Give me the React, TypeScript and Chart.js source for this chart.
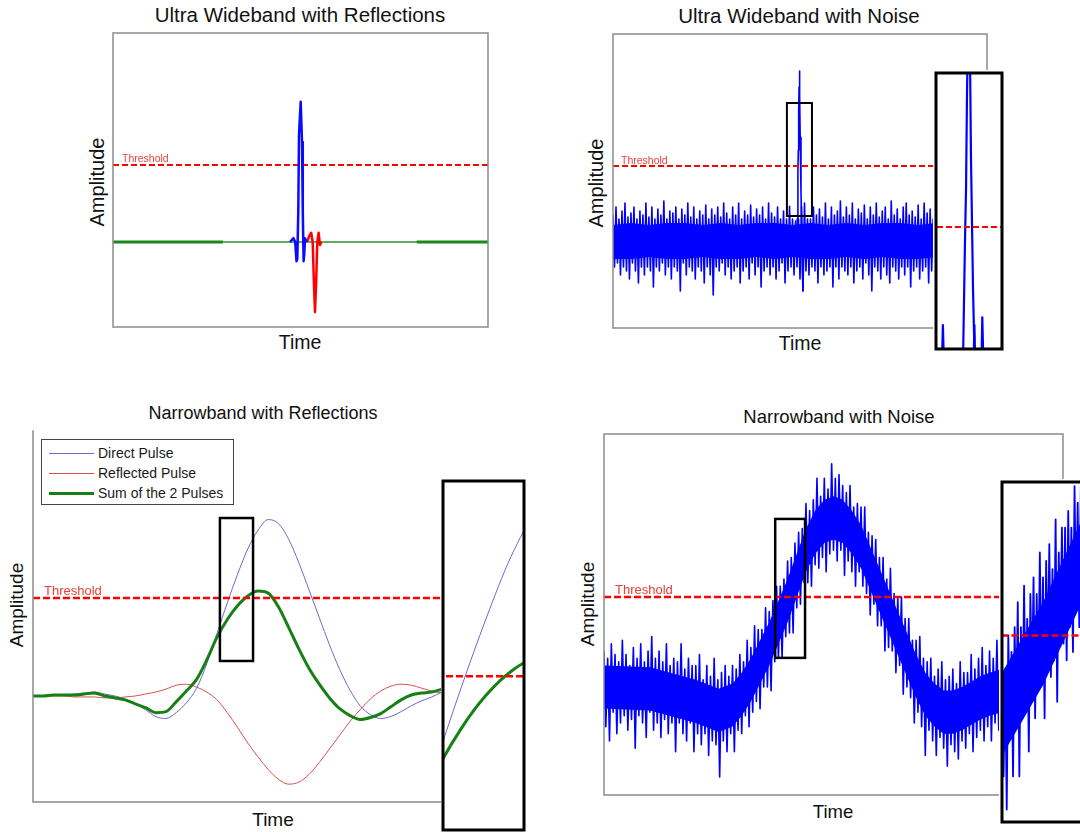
import React, { useEffect, useRef } from "react";
import { Chart, registerables } from "chart.js";

Chart.register(...registerables);

// ---------------- Panel 1: Ultra Wideband with Reflections ----------------
const uwbReflThreshold = 1.0;
const uwbBaselineSpan = [0, 100];
const uwbBaselineThickLeft = [0, 29.3];
const uwbBaselineThickRight = [81, 100];
const uwbDirectX = [47.2, 48.13, 48.59, 48.93, 49.15, 49.41, 49.6, 50.05, 50.4, 50.61, 50.83, 51.01, 51.2, 51.6];
const uwbDirectY = [0, 0.05, 0.0, -0.25, -0.22, 0.4, 1.4, 1.82, 1.3, 0.4, -0.25, -0.15, 0.05, 0];
const uwbReflectedX = [51.73, 52.35, 52.85, 53.25, 53.55, 53.87, 54.19, 54.48, 54.83, 55.2, 55.6];
const uwbReflectedY = [0, 0.08, 0.12, 0.0, -0.5, -0.91, -0.5, 0.0, 0.12, -0.04, 0];

// ---------------- Panel 2: Ultra Wideband with Noise ----------------
const uwbNoiseThreshold = 1.925;
const uwbNoiseStep = 0.4;
const uwbNoiseEnd = 86.4;
const uwbNoise = [
  0.7, -0.6, 0.9, -0.5, 0.6, -0.8, 0.8, -0.6, 1.0, -0.7, 0.65, -0.9, 0.75, -0.5, 0.9, -0.7, 0.6, -1.0, 0.8, -0.6,
  0.7, -0.8, 1.0, -0.6, 0.65, -0.7, 0.9, -1.1, 0.6, -0.6, 0.85, -0.7, 0.7, -0.5, 1.05, -0.8, 0.6, -0.6, 0.8, -0.9,
  0.75, -0.6, 0.9, -0.7, 0.6, -1.2, 0.85, -0.5, 0.7, -0.8, 1.0, -0.6, 0.65, -0.7, 0.9, -0.9, 0.6, -0.6, 0.8, -0.7,
  0.7, -1.0, 0.95, -0.6, 0.6, -0.8, 0.85, -1.3, 0.7, -0.6, 0.9, -0.7, 0.65, -0.5, 1.0, -0.8, 0.75, -0.6, 0.6, -0.9,
  0.9, -0.7, 0.7, -0.6, 1.0, -1.0, 0.6, -0.7, 0.8, -0.6, 0.7, -0.9, 0.95, -0.5, 0.65, -0.8, 0.85, -0.6, 0.7, -1.1,
  0.9, -0.7, 0.6, -0.6, 1.0, -0.8, 0.75, -0.6, 0.65, -0.9, 0.9, -0.7, 0.6, -0.5, 0.8, -1.0,
  0.6, -0.7, 0.92, -0.6, 0.6, -0.8, 0.55, -0.6, 0.6, -0.9, 0.92, -1.2, 1.0, -0.7, 0.6, -0.8, 0.6, -0.6,
  0.9, -0.7, 0.7, -1.0, 0.85, -0.6, 0.65, -0.8, 1.0, -0.7, 0.6, -0.6, 0.9, -1.1, 0.7, -0.6, 0.8, -0.9, 1.05, -0.6,
  0.65, -0.7, 0.9, -0.8, 0.7, -0.6, 1.0, -1.0, 0.6, -0.7, 0.85, -0.6, 0.75, -0.9, 0.95, -0.5, 0.6, -0.8, 0.9, -1.2,
  0.7, -0.6, 1.0, -0.7, 0.65, -0.9, 0.8, -0.6, 0.9, -0.8, 0.6, -1.0, 1.05, -0.6, 0.7, -0.7, 0.85, -0.9, 0.6, -0.6,
  0.9, -0.8, 1.0, -0.6, 0.7, -1.1, 0.8, -0.7, 0.65, -0.6, 0.95, -0.9, 0.6, -0.7, 1.0, -0.6, 0.75, -1.0, 0.85, -0.7,
  0.6, -0.8, 0.7,
];
// dense core of the noise band (sampled every 4.8 time units)
const uwbCoreStep = 4.8;
const uwbCoreUpper = [0.45, 0.5, 0.45, 0.5, 0.5, 0.45, 0.5, 0.45, 0.5, 0.5, 0.45, 0.5, 0.45, 0.5, 0.45, 0.5, 0.5, 0.45, 0.5];
const uwbCoreLower = [-0.4, -0.4, -0.35, -0.4, -0.4, -0.35, -0.4, -0.4, -0.35, -0.4, -0.35, -0.4, -0.4, -0.35, -0.4, -0.35, -0.4, -0.4, -0.35];
const uwbPulseX = [49.1, 49.25, 49.44, 49.55, 49.65, 49.75, 49.85, 49.95, 50.05, 50.26, 50.46, 50.62, 50.78, 50.95];
const uwbPulseY = [-0.3, 0.6, 1.76, 2.32, 3.31, 3.9, 4.3, 3.7, 2.64, 1.28, 0.4, -0.6, -1.2, -0.2];
const uwbZoomX = [46.5, 53.2];
const uwbZoomY = [0.675, 3.5];

// ---------------- Panel 3: Narrowband with Reflections ----------------
const nbThreshold = 1.0;
const nbTimeStep = 2.5;
const nbDirect = [
  0, 0, 0.01, 0.01, 0.02, 0.03, 0.04, 0.02, 0, -0.03, -0.08, -0.14, -0.21, -0.23, -0.17, -0.07, 0.08, 0.33, 0.64, 0.95,
  1.24, 1.5, 1.69, 1.8, 1.76, 1.6, 1.36, 1.08, 0.8, 0.52, 0.27, 0.06, -0.1, -0.19, -0.23, -0.21, -0.16, -0.1, -0.05, -0.01,
  0.04,
];
const nbReflected = [
  0, 0, 0, 0, -0.01, -0.01, -0.01, -0.02, -0.02, -0.01, 0, 0.02, 0.04, 0.07, 0.11, 0.12, 0.09, 0.04, -0.04, -0.17,
  -0.32, -0.48, -0.62, -0.75, -0.85, -0.9, -0.88, -0.8, -0.68, -0.54, -0.4, -0.26, -0.14, -0.03, 0.05, 0.1, 0.12, 0.11, 0.08, 0.05,
  0.03,
];
const nbSum = [
  0, 0, 0.01, 0.01, 0.01, 0.02, 0.03, 0, -0.02, -0.04, -0.08, -0.12, -0.17, -0.16, -0.06, 0.05, 0.17, 0.37, 0.6, 0.78,
  0.92, 1.02, 1.07, 1.05, 0.91, 0.7, 0.48, 0.28, 0.12, -0.02, -0.13, -0.2, -0.24, -0.22, -0.18, -0.11, -0.04, 0.01, 0.03, 0.04,
  0.07,
];
const nbLegend = ["Direct Pulse", "Reflected Pulse", "Sum of the 2 Pulses"];
const nbZoomX = [45.7, 53.8];
const nbZoomY = [0.357, 1.816];

// ---------------- Panel 4: Narrowband with Noise ----------------
const nbNoiseThreshold = 5.5;
const nbNoiseStep = 0.4;
const nbNoiseEnd = 86.7;
const nbNoise = [
  4.0, 1.9, 3.8, 1.5, 4.2, 2.3, 3.9, 1.7, 3.7, 2.0, 4.3, 2.2, 3.9, 1.8, 3.6, 2.1, 4.1, 1.3, 3.8, 2.2,
  4.2, 2.0, 3.7, 1.6, 4.0, 2.3, 4.4, 1.8, 3.8, 2.0, 4.0, 1.6, 3.7, 2.1, 4.2, 1.7, 3.6, 2.0, 3.8, 1.2,
  3.7, 2.0, 4.2, 1.7, 3.5, 1.5, 3.8, 2.0, 3.6, 1.2, 3.6, 1.7, 3.9, 1.4, 3.2, 1.7, 3.6, 1.1, 3.3, 1.5,
  3.8, 1.4, 3.2, 0.5, 3.4, 1.5, 3.6, 1.2, 3.3, 1.7, 3.6, 1.2, 3.5, 1.8, 3.9, 1.7, 3.7, 2.2, 4.3, 1.9,
  4.1, 2.3, 4.7, 2.6, 4.6, 2.4, 4.6, 3.0, 5.2, 3.0, 5.1, 2.9, 5.4, 3.7, 5.8, 3.8, 5.8, 3.8, 6.0, 4.4,
  6.5, 4.5, 6.6, 4.5, 7.0, 5.2, 7.3, 5.3, 7.4, 5.9, 8.1, 5.9, 7.9, 5.8, 8.2, 6.4, 8.8, 6.3, 8.3, 6.6,
  8.8, 6.2, 8.5, 6.7, 9.2, 6.8, 8.8, 6.5, 8.9, 6.8, 8.6, 6.1, 8.4, 6.5, 8.6, 6.2, 8.0, 5.8, 8.1, 6.2,
  8.0, 5.8, 8.0, 5.6, 7.3, 5.0, 7.2, 5.3, 7.1, 4.7, 6.6, 4.7, 6.6, 4.0, 6.0, 4.1, 6.3, 4.0, 5.6, 3.4,
  5.5, 3.6, 5.5, 2.8, 4.9, 3.0, 4.9, 2.7, 4.3, 2.0, 4.3, 2.3, 4.4, 1.9, 3.8, 1.1, 3.7, 1.8, 3.8, 1.5,
  3.3, 1.1, 3.5, 1.6, 3.7, 1.3, 3.2, 0.8, 3.3, 1.4, 3.5, 1.2, 3.1, 1.0, 3.7, 1.5, 3.4, 1.3, 3.4, 1.7,
  3.9, 1.2, 3.5, 1.6, 3.8, 1.8, 4.1, 1.5, 3.6, 1.9, 4.0, 1.5, 3.8, 2.0, 4.3, 1.8, 3.8, 2.1,
];
// dense core of the noisy narrowband signal
const nbCoreX = [0, 10, 20, 25, 28, 30, 32, 34, 36, 38, 40, 42, 44, 46, 48, 50, 52, 54, 56, 58, 60, 62, 64, 66, 68, 70, 72, 74, 76, 78, 80, 82, 84, 86.7];
const nbCoreUpper = [3.6, 3.55, 3.2, 2.95, 3.1, 3.4, 3.8, 4.3, 4.8, 5.4, 6.0, 6.7, 7.4, 7.9, 8.2, 8.3, 8.2, 7.9, 7.5, 6.9, 6.3, 5.7, 5.1, 4.5, 3.9, 3.4, 3.1, 2.9, 2.9, 3.0, 3.15, 3.3, 3.4, 3.5];
const nbCoreLower = [2.4, 2.35, 2.0, 1.75, 1.9, 2.2, 2.6, 3.1, 3.6, 4.2, 4.8, 5.5, 6.2, 6.7, 7.0, 7.1, 7.0, 6.7, 6.3, 5.7, 5.1, 4.5, 3.9, 3.3, 2.7, 2.2, 1.9, 1.7, 1.7, 1.8, 1.95, 2.1, 2.2, 2.3];
const nbNoiseZoomStart = 37.3;
const nbNoiseZoomStep = 0.125;
const nbNoiseZoom = [
  5.2, 3.8, 5.1, 3.4, 5.5, 4.3, 5.3, 3.8, 5.6, 4.5, 5.9, 3.8, 5.6, 4.5, 6.1, 4.6, 5.7, 4.1, 6.0, 4.9,
  6.2, 4.5, 6.0, 4.9, 6.5, 4.9, 6.2, 4.5, 6.4, 5.2, 6.6, 5.0, 6.3, 5.2, 6.9, 4.7, 6.5, 5.5, 6.8, 5.4,
  6.8, 5.2, 7.0, 5.6, 6.8, 5.3, 7.3, 5.8, 7.1, 5.6, 7.3, 5.9, 7.1,
];
const nbZoomCoreX = [37.3, 40.55, 43.8];
const nbZoomCoreUpper = [5.05, 5.9, 6.95];
const nbZoomCoreLower = [4.05, 4.9, 5.95];
const nbNoiseBoxX = [37.3, 43.8];
const nbNoiseBoxY = [3.81, 7.67];
const nbNoiseZoomY = [3.25, 7.35];

// ---------------- helpers ----------------
const FONT = "'Liberation Sans', Arial, Helvetica, sans-serif";
const BLUE = "#0000ff";
const RED = "#ff0000";
const FRAME_GRAY = "#8c8c8c";
const DIRECT_COLOR = "#6a6ac8";
const REFLECT_COLOR = "#d85050";
const SUM_COLOR = "#168016";

type Pt = { x: number; y: number };
const pts = (xs: number[], ys: number[]): Pt[] => xs.map((x, i) => ({ x, y: ys[i] }));
const stepped = (start: number, step: number, ys: number[]): Pt[] => ys.map((y, i) => ({ x: start + i * step, y }));
const hline = (span: number[], y: number): Pt[] => [
  { x: span[0], y },
  { x: span[1], y },
];

const ds = (data: Pt[], color: string, width: number, extra: any = {}) => ({
  data,
  borderColor: color,
  backgroundColor: color,
  borderWidth: width,
  pointRadius: 0,
  pointHoverRadius: 0,
  fill: false,
  tension: 0,
  borderJoinStyle: "round",
  ...extra,
});

// filled core band: upper dataset fills down to the next (lower) dataset
const band = (upper: Pt[], lower: Pt[], color: string) => [
  ds(upper, color, 0, { fill: "+1", backgroundColor: color }),
  ds(lower, color, 0),
];

type Decor = {
  bg?: string;
  frame?: { sides: string[]; color: string; width: number };
  boxes?: { xs: number[]; ys: number[]; color: string; width: number }[];
};

function decorPlugin(d: Decor) {
  return {
    id: "decor",
    beforeDraw(chart: any) {
      if (!d.bg) return;
      const ctx = chart.ctx;
      ctx.save();
      ctx.fillStyle = d.bg;
      ctx.fillRect(0, 0, chart.width, chart.height);
      ctx.restore();
    },
    afterDraw(chart: any) {
      const { ctx, chartArea: a, scales } = chart;
      ctx.save();
      for (const b of d.boxes || []) {
        const x0 = scales.x.getPixelForValue(b.xs[0]);
        const x1 = scales.x.getPixelForValue(b.xs[1]);
        const y0 = scales.y.getPixelForValue(b.ys[0]);
        const y1 = scales.y.getPixelForValue(b.ys[1]);
        ctx.strokeStyle = b.color;
        ctx.lineWidth = b.width;
        ctx.strokeRect(Math.min(x0, x1), Math.min(y0, y1), Math.abs(x1 - x0), Math.abs(y1 - y0));
      }
      if (d.frame) {
        const f = d.frame;
        ctx.strokeStyle = f.color;
        ctx.lineWidth = f.width;
        ctx.lineCap = "square";
        ctx.beginPath();
        if (f.sides.includes("top")) {
          ctx.moveTo(a.left, a.top);
          ctx.lineTo(a.right, a.top);
        }
        if (f.sides.includes("right")) {
          ctx.moveTo(a.right, a.top);
          ctx.lineTo(a.right, a.bottom);
        }
        if (f.sides.includes("bottom")) {
          ctx.moveTo(a.left, a.bottom);
          ctx.lineTo(a.right, a.bottom);
        }
        if (f.sides.includes("left")) {
          ctx.moveTo(a.left, a.top);
          ctx.lineTo(a.left, a.bottom);
        }
        ctx.stroke();
      }
      ctx.restore();
    },
  };
}

type Rect = { left: number; top: number; width: number; height: number };

function ChartPanel(props: {
  area: Rect;
  pad: number;
  build: () => any[];
  xRange: number[];
  yRange: number[];
  decor: Decor;
}) {
  const { area, pad, build, xRange, yRange, decor } = props;
  const ref = useRef<HTMLCanvasElement | null>(null);
  useEffect(() => {
    if (!ref.current) return;
    const chart = new Chart(ref.current, {
      type: "line",
      data: { datasets: build() },
      options: {
        animation: false,
        responsive: false,
        devicePixelRatio: 1,
        events: [],
        layout: { padding: pad },
        scales: {
          x: { type: "linear", min: xRange[0], max: xRange[1], display: false },
          y: { type: "linear", min: yRange[0], max: yRange[1], display: false },
        },
        plugins: {
          legend: { display: false },
          tooltip: { enabled: false },
          title: { display: false },
          filler: { propagate: false },
        },
      },
      plugins: [decorPlugin(decor)],
    } as any);
    return () => chart.destroy();
  }, []);
  const w = area.width + 2 * pad;
  const h = area.height + 2 * pad;
  return (
    <canvas
      ref={ref}
      width={w}
      height={h}
      style={{ position: "absolute", left: area.left - pad, top: area.top - pad, width: w, height: h, display: "block" }}
    />
  );
}

function Txt(props: {
  x: number;
  y: number;
  size: number;
  text: string;
  color?: string;
  align?: "center" | "left";
  rotate?: boolean;
}) {
  const { x, y, size, text, color = "#111", align = "center", rotate = false } = props;
  const transform =
    align === "center" ? `translate(-50%, -50%)${rotate ? " rotate(-90deg)" : ""}` : "translate(0, -50%)";
  return (
    <div
      style={{
        position: "absolute",
        left: x,
        top: y,
        transform,
        fontFamily: FONT,
        fontSize: size,
        lineHeight: 1,
        color,
        whiteSpace: "nowrap",
      }}
    >
      {text}
    </div>
  );
}

export default function App() {
  // Panel 1
  const p1 = () => [
    ds(pts(uwbDirectX, uwbDirectY), "#0a0aff", 2.5),
    ds(pts(uwbReflectedX, uwbReflectedY), RED, 2.5),
    ds(hline(uwbBaselineSpan, uwbReflThreshold), RED, 2, { borderDash: [6, 3] }),
    ds(hline(uwbBaselineThickLeft, 0), "#1a881a", 3),
    ds(hline(uwbBaselineThickRight, 0), "#1a881a", 3),
    ds(hline(uwbBaselineSpan, 0), "#2a922a", 1.5),
  ];
  // Panel 2
  const p2 = (w: number) => [
    ds(hline([0, uwbNoiseEnd], uwbNoiseThreshold), RED, 2, { borderDash: [6, 3] }),
    ds(pts(uwbPulseX, uwbPulseY), BLUE, w),
    ds(stepped(0, uwbNoiseStep, uwbNoise), BLUE, w),
    ...band(stepped(0, uwbCoreStep, uwbCoreUpper), stepped(0, uwbCoreStep, uwbCoreLower), BLUE),
  ];
  // Panel 3
  const p3 = () => [
    ds(hline([0, 100], nbThreshold), RED, 2.5, { borderDash: [7, 3] }),
    ds(stepped(0, nbTimeStep, nbSum), SUM_COLOR, 3, { cubicInterpolationMode: "monotone" }),
    ds(stepped(0, nbTimeStep, nbDirect), DIRECT_COLOR, 1, { cubicInterpolationMode: "monotone" }),
    ds(stepped(0, nbTimeStep, nbReflected), REFLECT_COLOR, 1, { cubicInterpolationMode: "monotone" }),
  ];
  // Panel 4
  const p4 = () => [
    ds(hline([0, nbNoiseEnd], nbNoiseThreshold), RED, 2.5, { borderDash: [7, 3] }),
    ds(stepped(0, nbNoiseStep, nbNoise), BLUE, 1.6),
    ...band(pts(nbCoreX, nbCoreUpper), pts(nbCoreX, nbCoreLower), BLUE),
  ];
  const p4z = () => [
    ds(hline([0, 100], nbNoiseThreshold), RED, 2.5, { borderDash: [7, 3] }),
    ds(stepped(nbNoiseZoomStart, nbNoiseZoomStep, nbNoiseZoom), BLUE, 1.8),
    ...band(pts(nbZoomCoreX, nbZoomCoreUpper), pts(nbZoomCoreX, nbZoomCoreLower), BLUE),
  ];

  const legendRows = [
    { y: 453, color: DIRECT_COLOR, w: 1 },
    { y: 473, color: REFLECT_COLOR, w: 1 },
    { y: 493, color: SUM_COLOR, w: 3 },
  ];

  return (
    <div
      style={{
        position: "fixed",
        left: 0,
        top: 0,
        width: 1080,
        height: 832,
        overflow: "hidden",
        background: "#ffffff",
      }}
    >
      {/* Panel 1 */}
      <ChartPanel
        area={{ left: 113, top: 33, width: 375, height: 294 }}
        pad={4}
        build={p1}
        xRange={[0, 100]}
        yRange={[-1.104, 2.714]}
        decor={{ frame: { sides: ["top", "right", "bottom", "left"], color: FRAME_GRAY, width: 1.5 } }}
      />
      {/* Panel 2 */}
      <ChartPanel
        area={{ left: 613, top: 34, width: 374, height: 294 }}
        pad={4}
        build={() => p2(1.6)}
        xRange={[0, 100]}
        yRange={[-2.125, 5.225]}
        decor={{
          frame: { sides: ["top", "right", "bottom", "left"], color: FRAME_GRAY, width: 1.5 },
          boxes: [{ xs: uwbZoomX, ys: uwbZoomY, color: "#000", width: 2 }],
        }}
      />
      <ChartPanel
        area={{ left: 936, top: 73, width: 66, height: 276 }}
        pad={3}
        build={() => p2(2.2)}
        xRange={uwbZoomX}
        yRange={uwbZoomY}
        decor={{ bg: "#ffffff", frame: { sides: ["top", "right", "bottom", "left"], color: "#000", width: 3 } }}
      />
      {/* Panel 3 */}
      <ChartPanel
        area={{ left: 33, top: 431, width: 409, height: 371 }}
        pad={4}
        build={p3}
        xRange={[0, 100]}
        yRange={[-1.082, 2.704]}
        decor={{
          frame: { sides: ["bottom", "left"], color: FRAME_GRAY, width: 1.5 },
          boxes: [{ xs: nbZoomX, ys: nbZoomY, color: "#000", width: 2.5 }],
        }}
      />
      <ChartPanel
        area={{ left: 443, top: 481, width: 81, height: 349 }}
        pad={2}
        build={p3}
        xRange={nbZoomX}
        yRange={nbZoomY}
        decor={{ bg: "#ffffff", frame: { sides: ["top", "right", "bottom", "left"], color: "#000", width: 3 } }}
      />
      {/* Panel 4 */}
      <ChartPanel
        area={{ left: 604, top: 434, width: 459, height: 361 }}
        pad={4}
        build={p4}
        xRange={[0, 100]}
        yRange={[0, 10.03]}
        decor={{
          frame: { sides: ["top", "right", "bottom", "left"], color: FRAME_GRAY, width: 1.5 },
          boxes: [{ xs: nbNoiseBoxX, ys: nbNoiseBoxY, color: "#000", width: 2.5 }],
        }}
      />
      <ChartPanel
        area={{ left: 1002, top: 482, width: 82, height: 340 }}
        pad={3}
        build={p4z}
        xRange={nbNoiseBoxX}
        yRange={nbNoiseZoomY}
        decor={{ bg: "#ffffff", frame: { sides: ["top", "right", "bottom", "left"], color: "#000", width: 3 } }}
      />

      {/* Titles */}
      <Txt x={300} y={15} size={20.5} text="Ultra Wideband with Reflections" />
      <Txt x={799} y={16} size={20.5} text="Ultra Wideband with Noise" />
      <Txt x={263} y={413} size={18} text="Narrowband with Reflections" />
      <Txt x={839} y={417} size={18.5} text="Narrowband with Noise" />

      {/* Axis labels */}
      <Txt x={97} y={182} size={20} text="Amplitude" rotate />
      <Txt x={596} y={183} size={20} text="Amplitude" rotate />
      <Txt x={16} y={605} size={19} text="Amplitude" rotate />
      <Txt x={587} y={604} size={19} text="Amplitude" rotate />
      <Txt x={300} y={343} size={19.5} text="Time" />
      <Txt x={800} y={344} size={19.5} text="Time" />
      <Txt x={273} y={819} size={19} text="Time" />
      <Txt x={833} y={812} size={18.5} text="Time" />

      {/* Threshold labels */}
      <Txt x={122} y={158} size={10.5} text="Threshold" color="#e8403a" align="left" />
      <Txt x={621} y={160} size={10.5} text="Threshold" color="#e8403a" align="left" />
      <Txt x={44} y={590} size={13} text="Threshold" color="#e8403a" align="left" />
      <Txt x={615} y={589} size={13} text="Threshold" color="#e8403a" align="left" />

      {/* Legend (panel 3) */}
      <div
        style={{
          position: "absolute",
          left: 41,
          top: 439,
          width: 193,
          height: 66,
          border: "1px solid #444",
          boxSizing: "border-box",
          background: "#fff",
        }}
      />
      {legendRows.map((e, i) => (
        <React.Fragment key={i}>
          <div
            style={{
              position: "absolute",
              left: 49,
              top: Math.round(e.y - e.w / 2),
              width: 45,
              height: e.w,
              background: e.color,
            }}
          />
          <Txt x={98} y={e.y} size={14} text={nbLegend[i]} color="#1a1a1a" align="left" />
        </React.Fragment>
      ))}
    </div>
  );
}
